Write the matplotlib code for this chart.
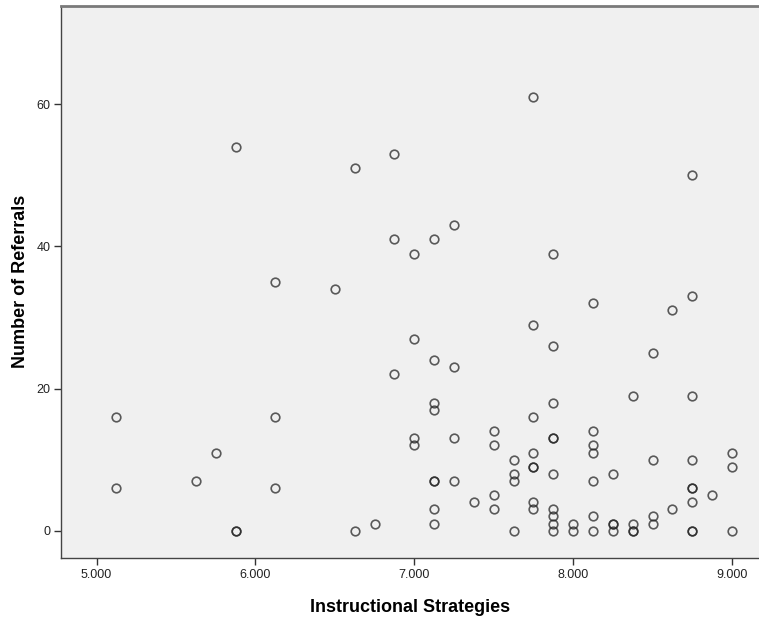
import matplotlib
matplotlib.use("Agg")
import matplotlib.pyplot as plt

plt.rcParams['font.family'] = ['Liberation Sans', 'DejaVu Sans']

# the data: instructional strategies score -> list of referral counts
strategy = [5.125, 5.625, 5.75, 5.875, 6.125, 6.5, 6.625, 6.75, 6.875, 7.0,
            7.125, 7.25, 7.375, 7.5, 7.625, 7.75, 7.875, 8.0, 8.125, 8.25,
            8.375, 8.5, 8.625, 8.75, 8.875, 9.0]
referrals = [
    [16, 6],
    [7],
    [11],
    [54, 0, 0],
    [35, 16, 6],
    [34],
    [51, 0],
    [1],
    [53, 41, 22],
    [39, 27, 13, 12],
    [41, 24, 18, 17, 7, 7, 3, 1],
    [43, 23, 13, 7],
    [4],
    [14, 12, 5, 3],
    [10, 8, 7, 0],
    [61, 29, 16, 11, 9, 9, 4, 3],
    [39, 26, 18, 13, 13, 8, 3, 2, 1, 0],
    [1, 0],
    [32, 14, 12, 11, 7, 2, 0],
    [8, 1, 1, 0],
    [19, 1, 0, 0],
    [25, 10, 2, 1],
    [31, 3],
    [50, 33, 19, 10, 6, 6, 4, 0, 0],
    [5],
    [11, 9, 0],
]

xs = []
ys = []
for s, vals in zip(strategy, referrals):
    for v in vals:
        xs.append(s)
        ys.append(v)

fig = plt.figure(figsize=(7.59, 6.20), dpi=100)
ax = fig.add_axes([0.081, 0.1008, 0.919, 0.8903])
ax.set_facecolor('#f0f0f0')

ax.plot(xs, ys, linestyle='none', marker='o', markersize=6.2,
        markerfacecolor='none', markeredgecolor=(0.15, 0.15, 0.15, 0.75),
        markeredgewidth=1.2)

ax.set_xlim(4.779, 9.17)
ax.set_ylim(-3.77, 73.9)
ax.set_xticks([5, 6, 7, 8, 9])
ax.set_xticklabels(['5.000', '6.000', '7.000', '8.000', '9.000'])
ax.set_yticks([0, 20, 40, 60])

ax.tick_params(direction='out', length=5, width=1, colors='#333333',
               labelsize=9, pad=3)
ax.tick_params(labelcolor='#222222')
ax.spines['right'].set_visible(False)
ax.spines['top'].set_color('#7a7a7a')
ax.spines['top'].set_linewidth(2)
for side in ['left', 'bottom']:
    ax.spines[side].set_color('#444444')
    ax.spines[side].set_linewidth(1)

ax.set_xlabel('Instructional Strategies', fontsize=13, fontweight='bold',
              labelpad=13)
ax.set_ylabel('Number of Referrals', fontsize=13, fontweight='bold')
ax.yaxis.set_label_coords(-0.047, 0.5)

fig.savefig('out.png', dpi=100)
